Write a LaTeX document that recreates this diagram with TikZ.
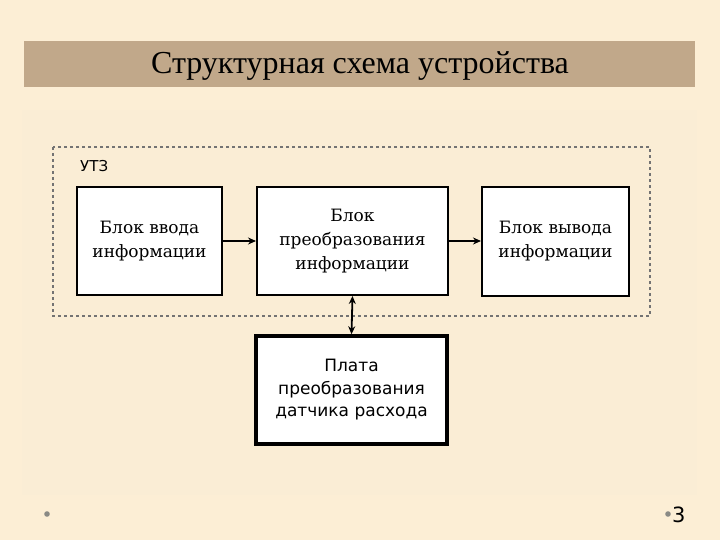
\documentclass[tikz,border=0pt]{standalone}
\usepackage{fontspec}
\setmainfont{Liberation Serif}
\newfontfamily\boxserif{DejaVu Serif}
\newfontfamily\boxsans{DejaVu Sans}
\usetikzlibrary{arrows.meta}
\definecolor{bgcream}{HTML}{FCEED5}
\definecolor{innercream}{HTML}{FAEDD5}
\definecolor{titlebar}{HTML}{C1A88A}
\definecolor{dotgray}{HTML}{8A8A85}
\tikzset{
  blockbox/.style={draw=black, line width=2pt, fill=white, minimum width=145pt, minimum height=108pt, align=center, font=\boxserif\fontsize{17}{24}\selectfont, inner sep=0pt, text=black},
  flowarrow/.style={line width=1.8pt, -{Stealth[length=8pt,width=7pt]}},
  dbarrow/.style={line width=1.8pt, {Stealth[length=8pt,width=7pt]}-{Stealth[length=8pt,width=7pt]}},
}
\begin{document}
\begin{tikzpicture}[x=1pt,y=-1pt]
\useasboundingbox (0,0) rectangle (720,540);
\fill[bgcream] (0,0) rectangle (720,540);
\fill[innercream] (22,110) rectangle (697,495);
\fill[titlebar] (24,41) rectangle (695,87);
\node[font=\fontsize{32}{36}\selectfont, text=black] (title) at (360,66) {Структурная схема устройства};
\draw[dash pattern=on 3pt off 3pt, line width=1.1pt, draw=black!55] (53,147) rectangle (650,316);
\node[anchor=west, font=\boxsans\fontsize{15}{18}\selectfont, inner sep=0pt] (utz) at (80,166) {УТЗ};
\node[blockbox] (b1) at (149.5,241) {Блок ввода\\информации};
\node[blockbox, minimum width=191pt] (b2) at (352.5,241) {Блок\\преобразования\\информации};
\node[blockbox, minimum width=147pt] (b3) at (555.5,241.5) {Блок вывода\\информации};
\node[blockbox, minimum width=191pt, line width=3.5pt, font=\boxsans\fontsize{17}{22.5}\selectfont] (b4) at (351.5,390) {Плата\\преобразования\\датчика расхода};
\draw[flowarrow] (b1.east) -- (b2.west);
\draw[flowarrow] (b2.east) -- (b3.west |- b2.east);
\draw[dbarrow] (b2.south) -- (b4.north);
\fill[dotgray] (47,514) circle (2.8pt);
\fill[dotgray] (668,514) circle (2.8pt);
\node[anchor=west, font=\boxsans\fontsize{21}{24}\selectfont, inner sep=0pt] (num) at (672,515) {3};
\end{tikzpicture}
\end{document}
